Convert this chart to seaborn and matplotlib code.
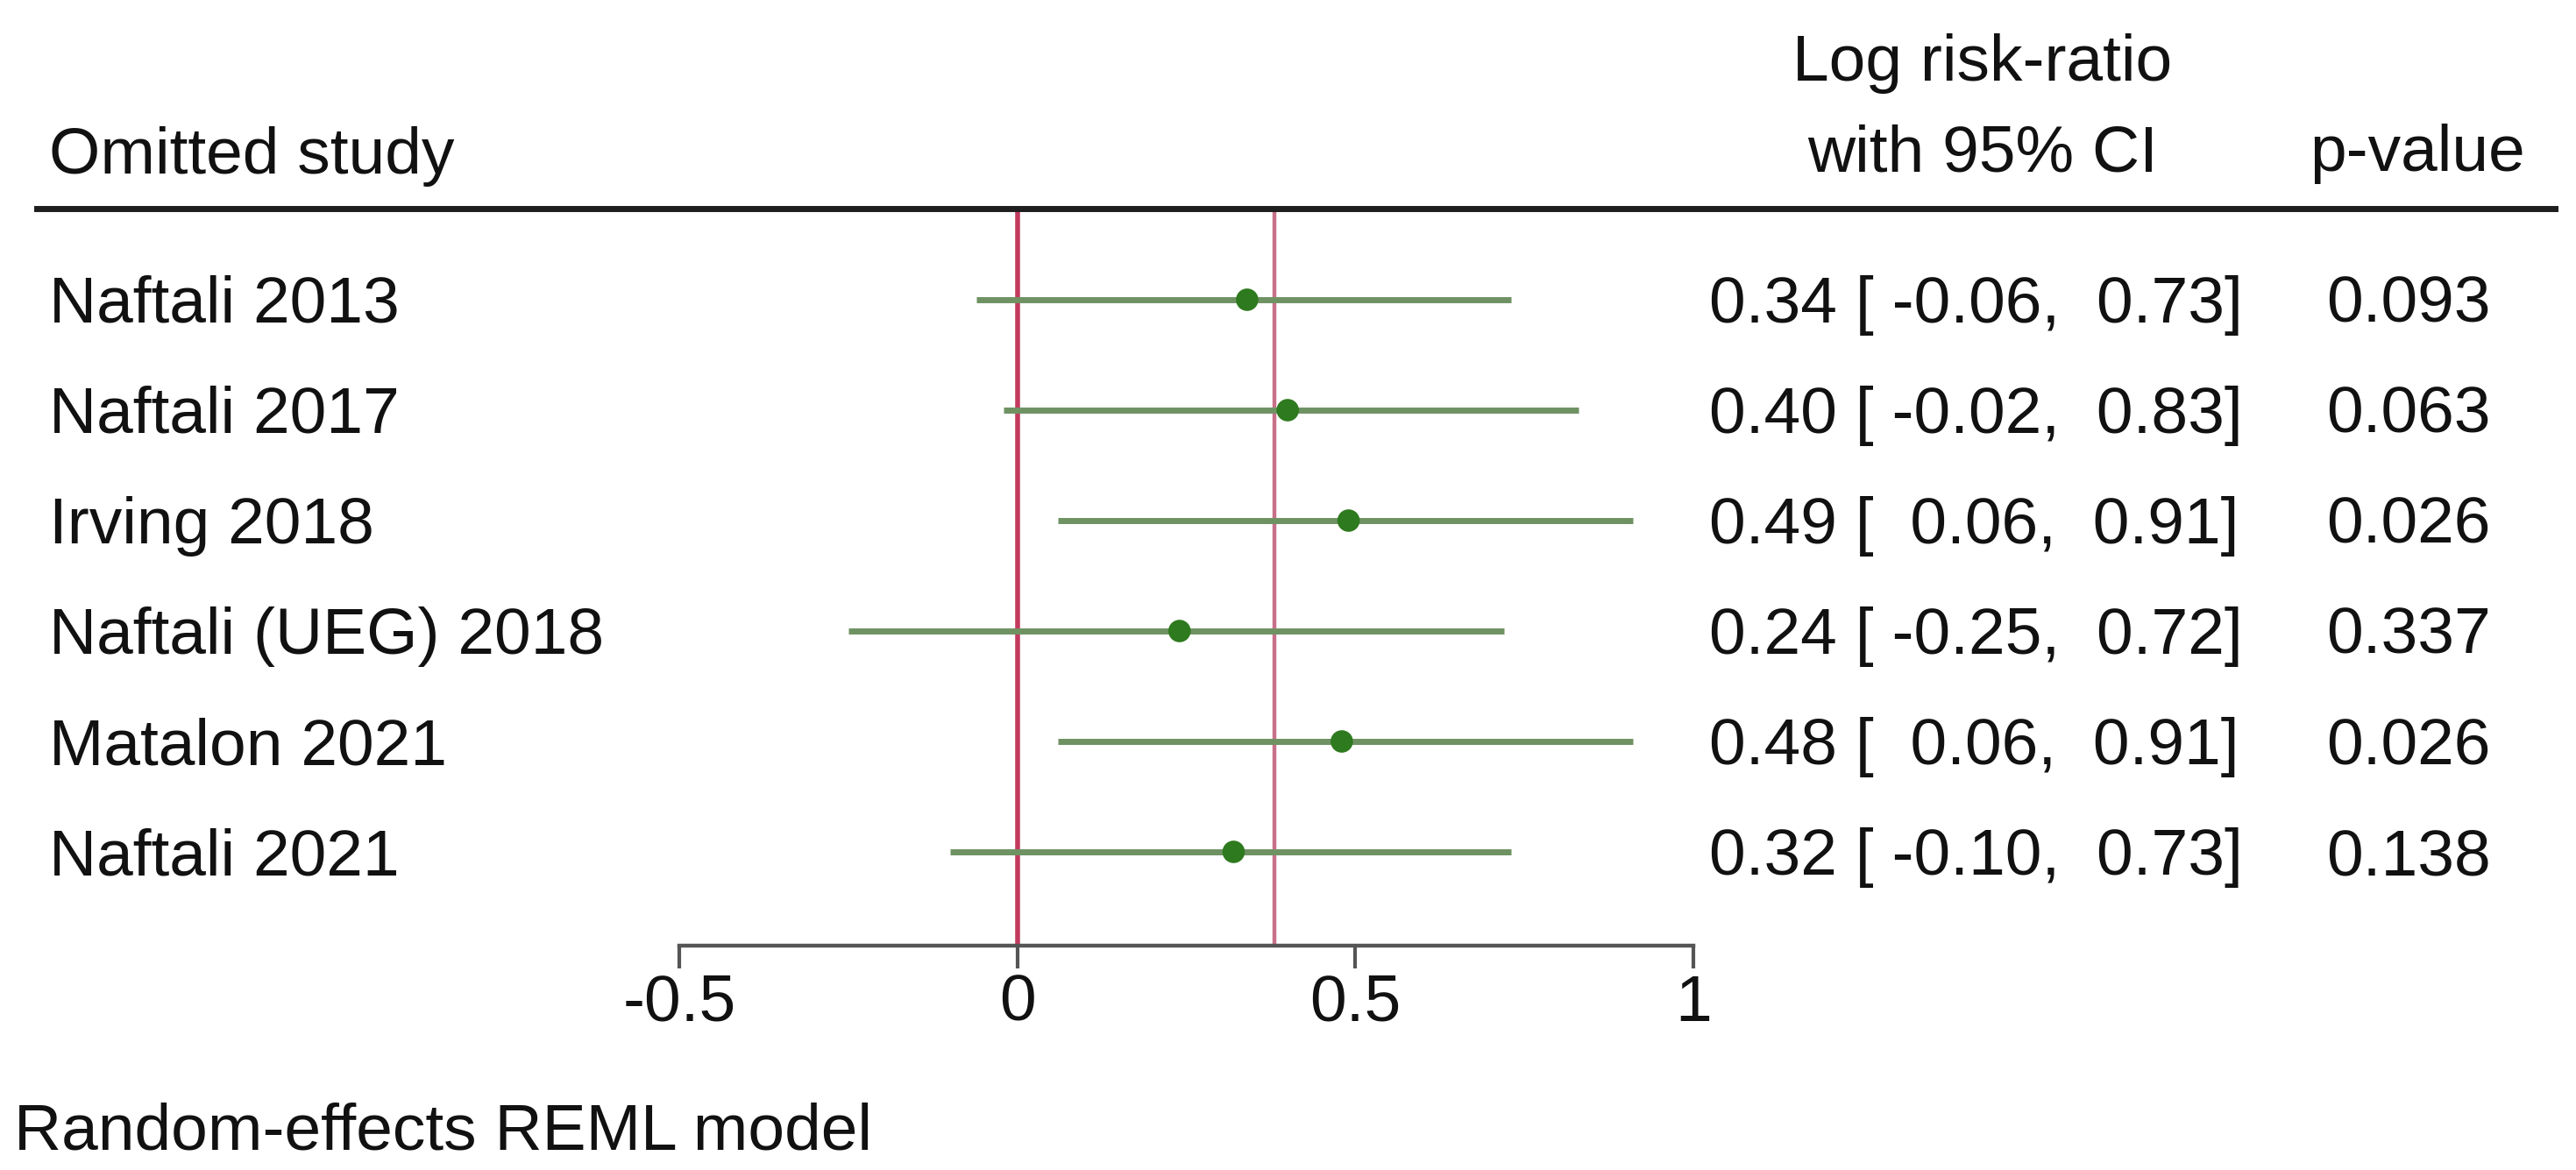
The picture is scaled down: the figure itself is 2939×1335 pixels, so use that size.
import numpy as np
import pandas as pd
import seaborn as sns
import matplotlib.pyplot as plt

# data (leave-one-out meta-analysis)
studies = ["Naftali 2013", "Naftali 2017", "Irving 2018",
           "Naftali (UEG) 2018", "Matalon 2021", "Naftali 2021"]
est = [0.34, 0.40, 0.49, 0.24, 0.48, 0.32]
ci_lo = [-0.06, -0.02, 0.06, -0.25, 0.06, -0.10]
ci_hi = [0.73, 0.83, 0.91, 0.72, 0.91, 0.73]
pvals = ["0.093", "0.063", "0.026", "0.337", "0.026", "0.138"]
overall = 0.38
xticks = [-0.5, 0, 0.5, 1]
xtick_labels = ["-0.5", "0", "0.5", "1"]

df = pd.DataFrame({"study": studies, "est": est, "lo": ci_lo, "hi": ci_hi,
                   "p": pvals})
df["row"] = np.arange(len(df))

sns.set_theme(style="white")
plt.rcParams["font.family"] = ["Liberation Sans", "DejaVu Sans"]
plt.rcParams["axes.unicode_minus"] = False

W, H = 2939, 1335
fig = plt.figure(figsize=(W / 100, H / 100), dpi=100)

# pixel helpers for layout
px_per_unit = 771.3
x0_px = 775          # pixel of -0.5
row0_px, row_step = 342, 126
top_px, bot_px = 238, 1079


def px2x(px):
    return -0.5 + (px - x0_px) / px_per_unit


ax = fig.add_axes([0, (H - bot_px) / H, 1, (bot_px - top_px) / H])
ax.set_xlim(px2x(0), px2x(W))
ax.set_ylim((bot_px - row0_px) / row_step, (top_px - row0_px) / row_step)

# reference lines
ax.axvline(0, color="#c23a5e", lw=4, zorder=1)
ax.axvline(overall, color="#c8708a", lw=3.2, zorder=1)

# CIs and points
ax.hlines(df["row"], df["lo"], df["hi"], color="#6f9263", lw=5, zorder=2)
sns.scatterplot(data=df, x="est", y="row", ax=ax, color="#2e7a1e", s=340,
                edgecolor="none", zorder=3)
ax.set_xlabel("")
ax.set_ylabel("")

# axis styling
for side in ["left", "right"]:
    ax.spines[side].set_visible(False)
ax.spines["bottom"].set_bounds(-0.5, 1)
ax.spines["bottom"].set_color("#555555")
ax.spines["bottom"].set_linewidth(3.2)
ax.spines["top"].set_bounds(px2x(42), px2x(2915))
ax.spines["top"].set_color("#1e1e1e")
ax.spines["top"].set_linewidth(5)
ax.set_yticks([])
ax.set_xticks(xticks)
ax.set_xticklabels(xtick_labels)
ax.tick_params(axis="x", bottom=True, direction="out", length=19, width=3,
               color="#555555", pad=4, labelsize=54, labelcolor="#111111")

fs = 54
tc = "#111111"
base_off = 26 / row_step

# row texts
for _, r in df.iterrows():
    y = r["row"] + base_off
    ax.text(px2x(56), y, r["study"], fontsize=fs, color=tc, va="baseline")
    ci_txt = f"{r['est']:.2f} [ {r['lo']:5.2f}, {r['hi']:5.2f}]"
    ax.text(px2x(1950), y, ci_txt, fontsize=fs, color=tc, va="baseline")
    ax.text(px2x(2748), y, r["p"], fontsize=fs, color=tc, va="baseline",
            ha="center")

# headers
fig.text(56 / W, 1 - 198 / H, "Omitted study", fontsize=fs, color=tc,
         va="baseline")
fig.text(2262 / W, 1 - 92 / H, "Log risk-ratio", fontsize=fs, color=tc,
         va="baseline", ha="center")
fig.text(2262 / W, 1 - 195 / H, "with 95% CI", fontsize=fs, color=tc,
         va="baseline", ha="center")
fig.text(2758 / W, 1 - 195 / H, "p-value", fontsize=fs, color=tc,
         va="baseline", ha="center")
fig.text(16 / W, 1 - 1312 / H, "Random-effects REML model", fontsize=fs,
         color=tc, va="baseline")

fig.savefig("out.png", dpi=100, facecolor="white")
plt.close()
